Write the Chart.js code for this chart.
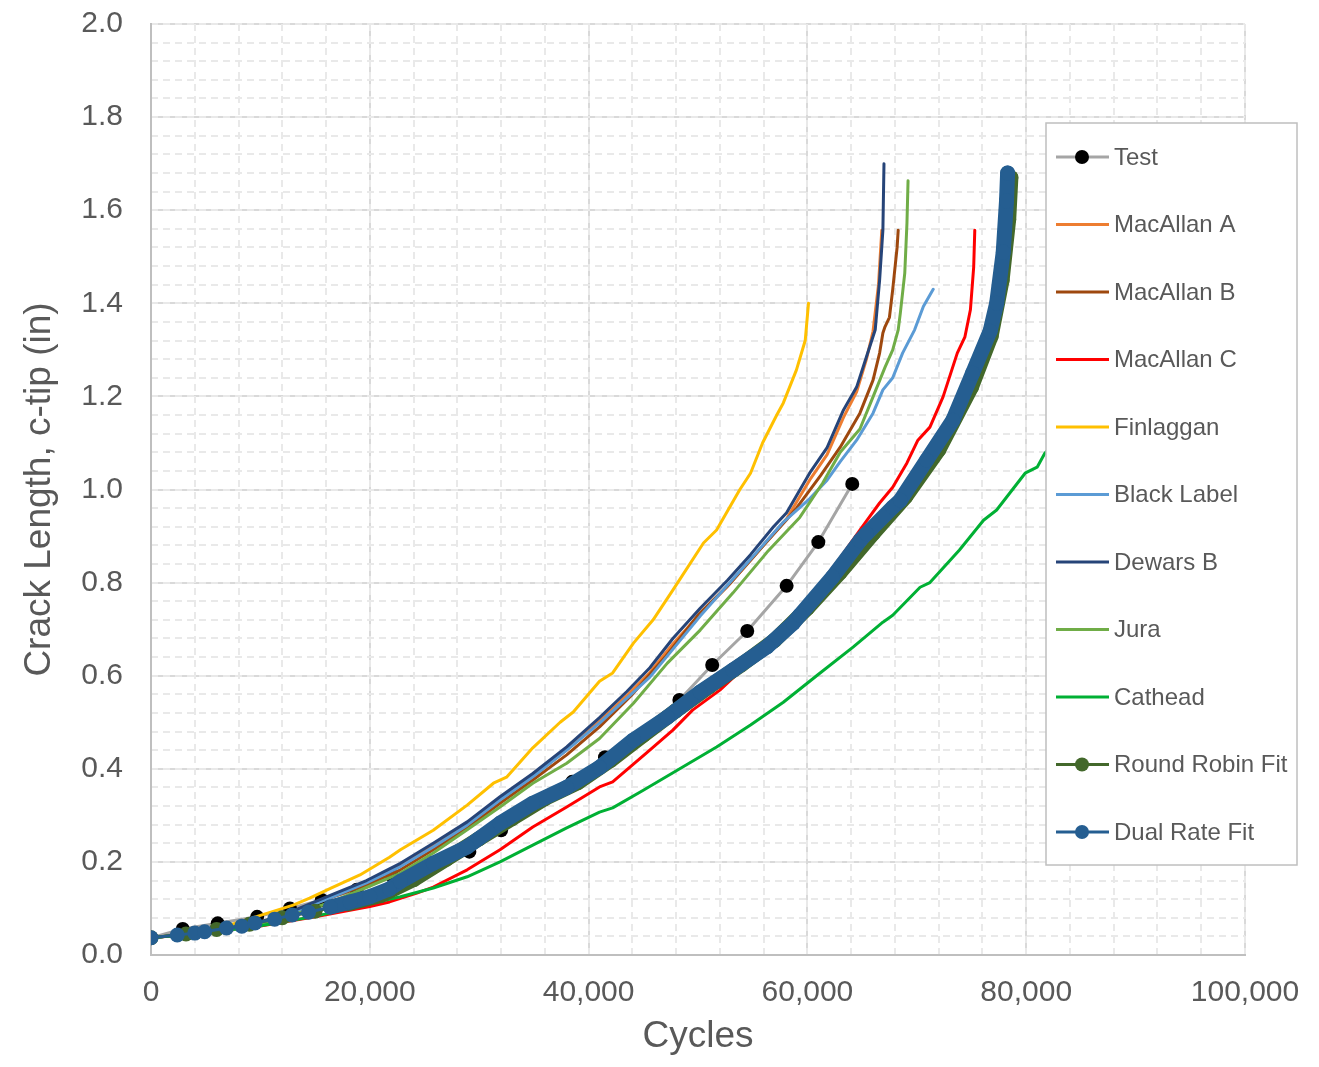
<!DOCTYPE html>
<html>
<head>
<meta charset="utf-8">
<script src="https://cdn.jsdelivr.net/npm/chart.js@4.4.1/dist/chart.umd.min.js"></script>
<style>
  html, body { margin: 0; padding: 0; background: #fff; }
  canvas { display: block; }
</style>
</head>
<body>
<canvas id="crackChart" width="1319" height="1067"></canvas>
<script>
// ---- data (cycles, crack length in inches) ----
const testCycles = [0, 2900, 6100, 9700, 12700, 15600, 18800, 22100, 25500, 29100, 32000, 35000, 38500, 41500, 44700, 48300, 51300, 54500, 58100, 61000, 64100];
const testCrack = [0.037, 0.056, 0.068, 0.082, 0.100, 0.118, 0.140, 0.168, 0.193, 0.222, 0.268, 0.322, 0.372, 0.425, 0.470, 0.548, 0.623, 0.696, 0.793, 0.887, 1.012];

const macAllanACycles = [0, 4000, 8000, 12000, 16600, 19700, 22800, 25800, 28900, 31900, 34900, 38000, 41000, 43500, 45600, 47700, 50200, 52700, 54800, 56900, 58100, 60200, 61800, 63300, 64500, 65400, 66000, 66500, 66800];
const macAllanACrack = [0.037, 0.046, 0.058, 0.084, 0.128, 0.157, 0.193, 0.235, 0.281, 0.334, 0.384, 0.440, 0.502, 0.557, 0.607, 0.668, 0.733, 0.792, 0.848, 0.905, 0.937, 1.020, 1.075, 1.155, 1.210, 1.280, 1.340, 1.440, 1.557];

const macAllanBCycles = [0, 4000, 8000, 12000, 16600, 19700, 22800, 25800, 28900, 31900, 34900, 38000, 41000, 44000, 47000, 50000, 53000, 56000, 58100, 59000, 61200, 63000, 64800, 66000, 66600, 66900, 67100, 67500, 67800, 68200, 68300];
const macAllanBCrack = [0.037, 0.046, 0.058, 0.083, 0.125, 0.150, 0.183, 0.226, 0.273, 0.326, 0.376, 0.430, 0.490, 0.560, 0.640, 0.730, 0.800, 0.880, 0.935, 0.960, 1.030, 1.091, 1.164, 1.235, 1.293, 1.336, 1.350, 1.370, 1.430, 1.520, 1.557];

const macAllanCCycles = [0, 5000, 10000, 15000, 20000, 21800, 24300, 25800, 28900, 31900, 34900, 38000, 41000, 42200, 45300, 47700, 49500, 52000, 55000, 58000, 61000, 63000, 64800, 66600, 67800, 69100, 70100, 71200, 72400, 73700, 74400, 74900, 75200, 75300];
const macAllanCCrack = [0.037, 0.047, 0.062, 0.082, 0.104, 0.114, 0.133, 0.146, 0.183, 0.226, 0.275, 0.318, 0.361, 0.372, 0.434, 0.483, 0.526, 0.569, 0.635, 0.710, 0.792, 0.853, 0.913, 0.971, 1.005, 1.057, 1.106, 1.134, 1.199, 1.293, 1.328, 1.386, 1.478, 1.557];

const finlagganCycles = [0, 4000, 7000, 10000, 13000, 14500, 16500, 19100, 21800, 22800, 25800, 28900, 31300, 32500, 34900, 37400, 38600, 41000, 42200, 44100, 45900, 47700, 50500, 51700, 53800, 54800, 55900, 57200, 57800, 59000, 59800, 60100];
const finlagganCrack = [0.037, 0.047, 0.063, 0.085, 0.107, 0.122, 0.144, 0.172, 0.210, 0.226, 0.268, 0.322, 0.369, 0.382, 0.445, 0.500, 0.522, 0.588, 0.606, 0.670, 0.720, 0.784, 0.885, 0.913, 0.999, 1.035, 1.100, 1.160, 1.186, 1.257, 1.320, 1.400];

const blackLabelCycles = [0, 4000, 8000, 12000, 16600, 19700, 22800, 25800, 28900, 31900, 34900, 38000, 41000, 45600, 50200, 54800, 57800, 60200, 61800, 63000, 64500, 66000, 66900, 67800, 68700, 69800, 70600, 71500];
const blackLabelCrack = [0.037, 0.046, 0.057, 0.082, 0.125, 0.155, 0.190, 0.232, 0.279, 0.333, 0.383, 0.440, 0.498, 0.597, 0.728, 0.850, 0.930, 0.980, 1.020, 1.060, 1.106, 1.164, 1.214, 1.240, 1.293, 1.343, 1.393, 1.430];

const dewarsBCycles = [0, 4000, 8000, 12000, 16600, 19700, 21800, 22800, 25800, 28900, 31900, 34900, 38000, 41000, 43500, 45600, 47700, 50200, 52700, 54800, 56900, 58100, 60200, 61800, 63300, 64500, 65400, 66200, 66600, 66900, 67000];
const dewarsBCrack = [0.037, 0.046, 0.058, 0.085, 0.130, 0.160, 0.185, 0.197, 0.240, 0.286, 0.340, 0.390, 0.447, 0.510, 0.566, 0.617, 0.680, 0.745, 0.805, 0.860, 0.920, 0.950, 1.035, 1.090, 1.171, 1.220, 1.285, 1.343, 1.450, 1.557, 1.700];

const juraCycles = [0, 4000, 8000, 12000, 16600, 19700, 22800, 25800, 28900, 31900, 34900, 38000, 41000, 44100, 47200, 50200, 53200, 56300, 59300, 61400, 63000, 64800, 66000, 67100, 67800, 68300, 68500, 68900, 69100, 69200];
const juraCrack = [0.037, 0.046, 0.056, 0.078, 0.115, 0.145, 0.176, 0.219, 0.269, 0.318, 0.369, 0.412, 0.465, 0.541, 0.627, 0.698, 0.778, 0.865, 0.940, 1.014, 1.080, 1.130, 1.199, 1.263, 1.300, 1.343, 1.380, 1.465, 1.572, 1.663];

const catheadCycles = [0, 5000, 10000, 15000, 19000, 22800, 25800, 28900, 31900, 34900, 38000, 41000, 42200, 45000, 48100, 51700, 54800, 57800, 60900, 64200, 66900, 67800, 70300, 71200, 73900, 76100, 77300, 79900, 81000, 81700, 82600];
const catheadCrack = [0.037, 0.048, 0.063, 0.083, 0.105, 0.125, 0.144, 0.168, 0.200, 0.236, 0.273, 0.307, 0.316, 0.354, 0.397, 0.447, 0.494, 0.543, 0.601, 0.662, 0.715, 0.730, 0.790, 0.800, 0.870, 0.934, 0.956, 1.035, 1.048, 1.078, 1.100];

const roundRobinCycles = [0, 3200, 6000, 9000, 12000, 15000, 18000, 21000, 24000, 27000, 30000, 33000, 36000, 39000, 42000, 45000, 48000, 51000, 54000, 57000, 60000, 63000, 66000, 69000, 72000, 75000, 76800, 77800, 78400, 78600];
const roundRobinCrack = [0.037, 0.045, 0.055, 0.066, 0.080, 0.094, 0.110, 0.128, 0.162, 0.206, 0.250, 0.293, 0.336, 0.370, 0.418, 0.472, 0.525, 0.576, 0.624, 0.676, 0.745, 0.822, 0.905, 0.985, 1.085, 1.220, 1.330, 1.450, 1.580, 1.670];

const dualRateCycles = [0, 2400, 4000, 4900, 6900, 8300, 9500, 11300, 12900, 14400, 16400, 18200, 20000, 21800, 22800, 25800, 28900, 31900, 34900, 38000, 41000, 44100, 47200, 50200, 53200, 56300, 58700, 59300, 62300, 64800, 65400, 67800, 68500, 70900, 73300, 75100, 76700, 77300, 77900, 78200, 78300];
const dualRateCrack = [0.037, 0.043, 0.047, 0.050, 0.058, 0.062, 0.069, 0.077, 0.086, 0.092, 0.103, 0.114, 0.125, 0.142, 0.158, 0.197, 0.232, 0.283, 0.326, 0.360, 0.403, 0.462, 0.511, 0.565, 0.612, 0.662, 0.713, 0.730, 0.812, 0.890, 0.905, 0.962, 0.977, 1.063, 1.149, 1.250, 1.340, 1.400, 1.510, 1.620, 1.680];

const xTicks = [0, 20000, 40000, 60000, 80000, 100000];
const yTicks = [0.0, 0.2, 0.4, 0.6, 0.8, 1.0, 1.2, 1.4, 1.6, 1.8, 2.0];

const pts = (xs, ys) => xs.map((x, i) => ({ x: x, y: ys[i] }));

const FONT = '"Liberation Sans", Arial, sans-serif';
const TEXT = '#595959';

// series in Excel order (first drawn at the bottom)
const series = [
    { label: 'Test', data: pts(testCycles, testCrack), color: '#A5A5A5', width: 3, marker: '#000000', radius: 7 },
    { label: 'MacAllan A', data: pts(macAllanACycles, macAllanACrack), color: '#ED7D31', width: 3 },
    { label: 'MacAllan B', data: pts(macAllanBCycles, macAllanBCrack), color: '#9E480E', width: 3 },
    { label: 'MacAllan C', data: pts(macAllanCCycles, macAllanCCrack), color: '#FF0000', width: 3 },
    { label: 'Finlaggan', data: pts(finlagganCycles, finlagganCrack), color: '#FFC000', width: 3 },
    { label: 'Black Label', data: pts(blackLabelCycles, blackLabelCrack), color: '#5B9BD5', width: 3 },
    { label: 'Dewars B', data: pts(dewarsBCycles, dewarsBCrack), color: '#264478', width: 3 },
    { label: 'Jura', data: pts(juraCycles, juraCrack), color: '#70AD47', width: 3 },
    { label: 'Cathead', data: pts(catheadCycles, catheadCrack), color: '#00B034', width: 3 },
    { label: 'Round Robin Fit', data: pts(roundRobinCycles, roundRobinCrack), color: '#43682B', width: 3, marker: '#43682B', radius: 7.5, band: true },
    { label: 'Dual Rate Fit', data: pts(dualRateCycles, dualRateCrack), color: '#255E91', width: 3, marker: '#255E91', radius: 7.5, band: true }
];

const datasets = series.map((s, i) => ({
    label: s.label,
    data: s.data,
    borderColor: s.color,
    backgroundColor: s.marker || s.color,
    borderWidth: s.width,
    pointRadius: s.radius || 0,
    pointBackgroundColor: s.marker || s.color,
    pointBorderWidth: 0,
    pointHoverRadius: s.radius || 0,
    tension: 0,
    borderJoinStyle: 'round',
    borderCapStyle: 'round',
    order: series.length - i,
    segment: s.band ? { borderWidth: ctx => ctx.p0.parsed.x >= 16000 ? 15 : 3 } : undefined
}));

// legend box drawn over the plot, like the Excel original
const boxLegend = {
    id: 'boxLegend',
    afterDatasetsDraw(chart) {
        const ctx = chart.ctx;
        const ca = chart.chartArea;
        const left = ca.right - 199, top = ca.top + 99, w = 251, h = 742;
        ctx.save();
        ctx.fillStyle = '#ffffff';
        ctx.fillRect(left, top, w, h);
        ctx.strokeStyle = '#BFBFBF';
        ctx.lineWidth = 1.5;
        ctx.strokeRect(left, top, w, h);
        ctx.font = '24px ' + FONT;
        ctx.textBaseline = 'middle';
        ctx.textAlign = 'left';
        series.forEach((s, i) => {
            const y = top + 34 + i * 67.5;
            ctx.strokeStyle = s.color;
            ctx.lineWidth = 3;
            ctx.beginPath();
            ctx.moveTo(left + 10, y);
            ctx.lineTo(left + 63, y);
            ctx.stroke();
            if (s.marker) {
                ctx.fillStyle = s.marker;
                ctx.beginPath();
                ctx.arc(left + 36, y, 7, 0, Math.PI * 2);
                ctx.fill();
            }
            ctx.fillStyle = TEXT;
            ctx.fillText(s.label, left + 68, y + 1);
        });
        ctx.restore();
    }
};

new Chart(document.getElementById('crackChart'), {
    type: 'line',
    data: { datasets: datasets },
    plugins: [boxLegend],
    options: {
        responsive: false,
        animation: false,
        events: [],
        layout: { padding: { top: 24, right: 74, bottom: 0, left: 0 } },
        plugins: { legend: { display: false }, tooltip: { enabled: false } },
        scales: {
            x: {
                type: 'linear',
                min: 0, max: 100000,
                afterBuildTicks: axis => { axis.ticks = xTicks.map(v => ({ value: v })); },
                afterFit: axis => { axis.height = 112; axis.paddingLeft = 0; axis.paddingRight = 0; },
                ticks: {
                    padding: 20,
                    color: TEXT,
                    font: { family: FONT, size: 30 },
                    maxRotation: 0,
                    callback: v => v.toLocaleString('en-US')
                },
                grid: { color: '#D9D9D9', lineWidth: 2, drawTicks: false },
                border: { color: '#BFBFBF', width: 2 },
                title: { display: true, text: 'Cycles', color: TEXT, font: { family: FONT, size: 37 }, padding: { top: 0, bottom: 8 } }
            },
            y: {
                type: 'linear',
                min: 0, max: 2,
                afterBuildTicks: axis => { axis.ticks = yTicks.map(v => ({ value: v })); },
                afterFit: axis => { axis.width = 151; axis.paddingTop = 0; axis.paddingBottom = 0; },
                ticks: {
                    padding: 28,
                    color: TEXT,
                    font: { family: FONT, size: 30 },
                    callback: v => v.toFixed(1)
                },
                grid: { color: '#D9D9D9', lineWidth: 2, drawTicks: false },
                border: { color: '#BFBFBF', width: 2 },
                title: { display: true, text: 'Crack Length, c-tip (in)', color: TEXT, font: { family: FONT, size: 37 }, padding: { top: 18, bottom: 0 } }
            },
            xMinor: {
                type: 'linear', axis: 'x', position: 'bottom',
                min: 0, max: 100000, z: -1,
                afterFit: axis => { axis.height = 0; axis.paddingLeft = 0; axis.paddingRight = 0; },
                ticks: { display: false, stepSize: 4000 },
                grid: { color: '#E9E9E9', lineWidth: 2, drawTicks: false },
                border: { display: false, dash: [7, 5] }
            },
            yMinor: {
                type: 'linear', axis: 'y', position: 'left',
                min: 0, max: 2, z: -1,
                afterFit: axis => { axis.width = 0; axis.paddingTop = 0; axis.paddingBottom = 0; },
                ticks: { display: false, stepSize: 0.04 },
                grid: { color: '#E9E9E9', lineWidth: 2, drawTicks: false },
                border: { display: false, dash: [7, 5] }
            }
        }
    }
});
</script>
</body>
</html>
